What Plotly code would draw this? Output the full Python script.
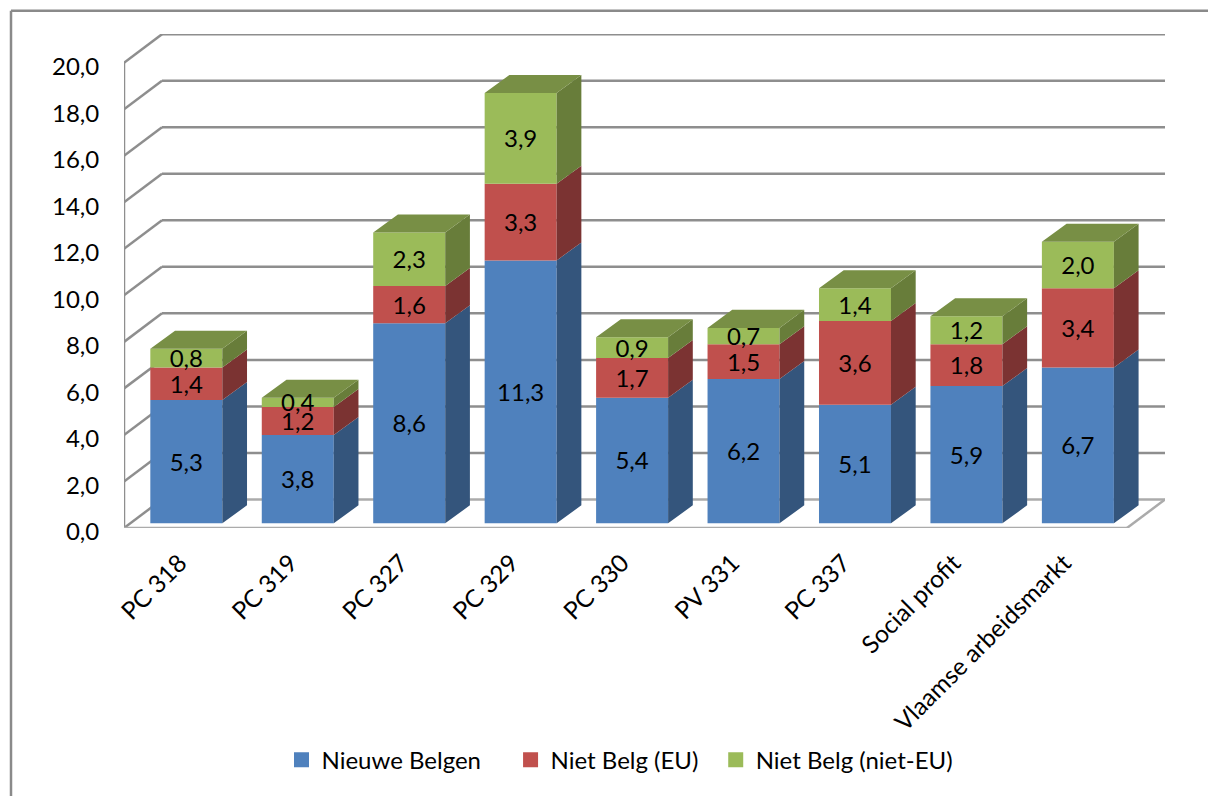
import plotly.graph_objects as go

categories = ["PC 318", "PC 319", "PC 327", "PC 329", "PC 330", "PV 331", "PC 337", "Social profit", "Vlaamse arbeidsmarkt"]
nieuwe_belgen = [5.3, 3.8, 8.6, 11.3, 5.4, 6.2, 5.1, 5.9, 6.7]
niet_belg_eu = [1.4, 1.2, 1.6, 3.3, 1.7, 1.5, 3.6, 1.8, 3.4]
niet_belg_niet_eu = [0.8, 0.4, 2.3, 3.9, 0.9, 0.7, 1.4, 1.2, 2.0]
y_ticks = [0, 2, 4, 6, 8, 10, 12, 14, 16, 18, 20]

series = [
    ("Nieuwe Belgen", nieuwe_belgen, "#4F81BD", "#34557C"),
    ("Niet Belg (EU)", niet_belg_eu, "#C0504D", "#7B3332"),
    ("Niet Belg (niet-EU)", niet_belg_niet_eu, "#9BBB59", "#687D3A"),
]
TOP_COLOR = "#788F45"
LEGEND_PAD = [4, 2, 0]  # trailing no-break spaces that open up the legend spacing

# pixel geometry of the fake 3-D box
L, R, T, B = 124, 1165, 34.3, 528
PX_X = (1127 - 124) / 9
PX_Y = 23.25
n = len(categories)
WALL_X, WALL_Y = 38 / PX_X, 28.5 / PX_Y
BAR_W = 72 / PX_X
FRONT_X, FRONT_Y = 6.6 / PX_X, 4.7 / PX_Y
DEPTH_X, DEPTH_Y = 24.7 / PX_X, 18 / PX_Y
LABEL_NUDGE = 3 / PX_Y
FONT = "Lato"
FS = 24
GRID = "#8E8E8E"

fig = go.Figure()
centers = [i + 0.5 + FRONT_X for i in range(n)]
cum = [0.0] * n
for name, vals, col, side in series:
    bases = [c + FRONT_Y for c in cum]
    fig.add_trace(go.Bar(x=centers, y=vals, base=bases, width=BAR_W, name=name, showlegend=False,
                         marker=dict(color=col, line=dict(width=0)), hoverinfo="skip"))
    sx, sy = [], []
    for xc, b, v in zip(centers, bases, vals):
        xr = xc + BAR_W / 2
        sx += [xr, xr + DEPTH_X, xr + DEPTH_X, xr, xr, None]
        sy += [b, b + DEPTH_Y, b + v + DEPTH_Y, b + v, b, None]
    fig.add_trace(go.Scatter(x=sx, y=sy, mode="lines", fill="toself", fillcolor=side,
                             line=dict(width=0, color=side), showlegend=False, hoverinfo="skip"))
    cum = [c + v for c, v in zip(cum, vals)]

tx, ty = [], []
for xc, c in zip(centers, cum):
    xl = xc - BAR_W / 2
    xr = xc + BAR_W / 2
    t = c + FRONT_Y
    tx += [xl, xr, xr + DEPTH_X, xl + DEPTH_X, xl, None]
    ty += [t, t, t + DEPTH_Y, t + DEPTH_Y, t, None]
fig.add_trace(go.Scatter(x=tx, y=ty, mode="lines", fill="toself", fillcolor=TOP_COLOR,
                         line=dict(width=0, color=TOP_COLOR), showlegend=False, hoverinfo="skip"))

cum = [0.0] * n
for name, vals, col, side in series:
    mids = [c + FRONT_Y + v / 2 - LABEL_NUDGE for c, v in zip(cum, vals)]
    fig.add_trace(go.Scatter(x=centers, y=mids, mode="text", text=vals, texttemplate="%{text:.1f}",
                             textposition="middle center", textfont=dict(family=FONT, size=FS, color="black"),
                             showlegend=False, hoverinfo="skip", cliponaxis=False))
    cum = [c + v for c, v in zip(cum, vals)]

# legend keys (square swatches like the reference)
for (name, vals, col, side), pad in zip(series, LEGEND_PAD):
    fig.add_trace(go.Scatter(x=[None], y=[None], mode="markers", name=name + "\u00a0" * pad,
                             marker=dict(symbol="square", size=15, color=col), hoverinfo="skip"))

shapes = []
def seg(x0, y0, x1, y1, color=GRID, width=2.5):
    shapes.append(dict(type="line", xref="x", yref="y", x0=x0, y0=y0, x1=x1, y1=y1,
                       layer="below", line=dict(color=color, width=width)))

for v in y_ticks:
    if v == 0:
        continue
    seg(0, v, WALL_X, v + WALL_Y)
    seg(WALL_X, v + WALL_Y, n + WALL_X, v + WALL_Y)
seg(0, 0, 0, y_ticks[-1])
FLOOR = "#ABABAB"
seg(0, 0, WALL_X, WALL_Y, GRID)
seg(WALL_X, WALL_Y, n + WALL_X, WALL_Y, FLOOR)
seg(n + WALL_X, WALL_Y, n, 0, FLOOR)
seg(0, 0, n, 0, FLOOR)

# outer frame of the picture
fx = (11 - L) / (R - L)
fy = 1 + (T - 11) / (B - T)
fb = 1 + (T - 796) / (B - T)
fr = 1 + (1208 - R) / (R - L)
frame = dict(color="#8A8A8A", width=2.5)
shapes.append(dict(type="line", xref="paper", yref="paper", x0=fx, x1=fx, y0=fb, y1=fy, line=frame, layer="below"))
shapes.append(dict(type="line", xref="paper", yref="paper", x0=fx, x1=fr, y0=fy, y1=fy, line=frame, layer="below"))

fig.update_layout(
    width=1208, height=796, autosize=False,
    margin=dict(l=L, r=1208 - R, t=T, b=796 - B, pad=0),
    paper_bgcolor="white", plot_bgcolor="rgba(0,0,0,0)",
    barmode="overlay", separators=",.",
    font=dict(family=FONT, size=FS, color="black"),
    shapes=shapes,
    legend=dict(orientation="h", x=(620 - L) / (R - L), xanchor="center", y=(B - 760) / (T - B) * -1,
                yanchor="middle", font=dict(family=FONT, size=FS), bgcolor="rgba(0,0,0,0)", traceorder="normal"),
    xaxis=dict(range=[0, n + WALL_X], tickvals=[i * 0.992 + 0.5 for i in range(n)], ticktext=categories,
               tickangle=-45, showgrid=False, zeroline=False, showline=False, ticks="outside",
               ticklen=10, tickcolor="rgba(0,0,0,0)", tickfont=dict(family=FONT, size=24.5)),
    yaxis=dict(range=[0, (B - T) / PX_Y], tickvals=y_ticks, tickformat=".1f", showgrid=False, zeroline=False,
               showline=False, ticks="outside", ticklen=19, tickcolor="rgba(0,0,0,0)",
               ticklabelshift=4, tickfont=dict(family=FONT, size=FS)),
)
fig.write_html("out.html", config=dict(displayModeBar=False),
               post_script="document.body.style.margin='0';document.documentElement.style.overflow='hidden';")
